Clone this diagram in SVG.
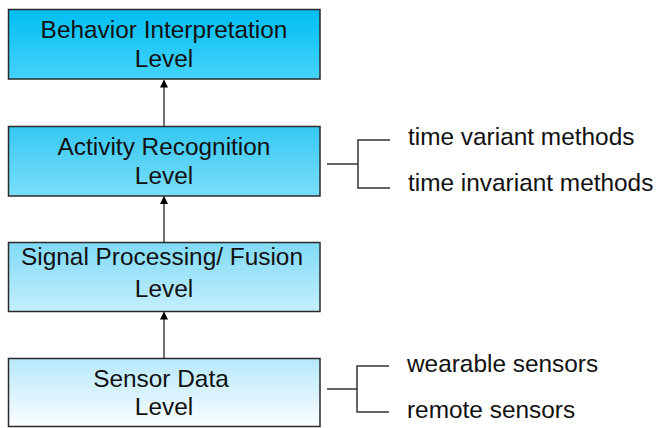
<svg xmlns="http://www.w3.org/2000/svg" width="657" height="428" viewBox="0 0 657 428">
<defs>
<linearGradient id="g1" x1="0" y1="0" x2="0" y2="1"><stop offset="0" stop-color="#00BEF2"/><stop offset="1" stop-color="#45D3FA"/></linearGradient>
<linearGradient id="g2" x1="0" y1="0" x2="0" y2="1"><stop offset="0" stop-color="#35C8F2"/><stop offset="1" stop-color="#7BDEFA"/></linearGradient>
<linearGradient id="g3" x1="0" y1="0" x2="0" y2="1"><stop offset="0" stop-color="#80DAF6"/><stop offset="1" stop-color="#C4EFFC"/></linearGradient>
<linearGradient id="g4" x1="0" y1="0" x2="0" y2="1"><stop offset="0" stop-color="#B6E8FA"/><stop offset="1" stop-color="#FBFEFF"/></linearGradient>
<marker id="arr" markerWidth="8" markerHeight="9" refX="7" refY="4" orient="auto" markerUnits="userSpaceOnUse">
<path d="M0,0 L8,4 L0,8 Z" fill="#000"/>
</marker>
</defs>
<style>
.box{stroke:#2a2a2a;stroke-width:1.5}
.t{font-family:"Liberation Sans",Arial,sans-serif;font-size:24.4px;fill:#111;text-anchor:middle}
.s{font-family:"Liberation Sans",Arial,sans-serif;font-size:24.4px;fill:#111}
.c{stroke:#111;stroke-width:1.2;fill:none}
.b{stroke:#333;stroke-width:1.5;fill:none}
</style>
<rect width="657" height="428" fill="#fff"/>
<g id="behavior">
<rect class="box" x="8.5" y="9.5" width="311.5" height="69.5" fill="url(#g1)"/>
<text class="t" x="164" y="37.5">Behavior Interpretation</text>
<text class="t" x="164" y="66.5">Level</text>
</g>
<g id="activity">
<rect class="box" x="8.5" y="126.5" width="311.5" height="69.5" fill="url(#g2)"/>
<text class="t" x="164" y="155">Activity Recognition</text>
<text class="t" x="164" y="184">Level</text>
</g>
<g id="signal">
<rect class="box" x="8.5" y="242.5" width="311.5" height="69" fill="url(#g3)"/>
<text class="t" x="162" y="265">Signal Processing/ Fusion</text>
<text class="t" x="164" y="297">Level</text>
</g>
<g id="sensor">
<rect class="box" x="8.5" y="358.5" width="311.5" height="68" fill="url(#g4)"/>
<text class="t" x="161" y="387">Sensor Data</text>
<text class="t" x="164" y="415">Level</text>
</g>
<g id="side-activity">
<text class="s" x="408" y="145">time variant methods</text>
<text class="s" x="408" y="191">time invariant methods</text>
</g>
<g id="side-sensor">
<text class="s" x="407" y="372">wearable sensors</text>
<text class="s" x="407" y="418">remote sensors</text>
</g>
<g id="connectors">
<line class="c" x1="164" y1="126" x2="164" y2="80.5" marker-end="url(#arr)"/>
<line class="c" x1="164" y1="242" x2="164" y2="197" marker-end="url(#arr)"/>
<line class="c" x1="164" y1="358" x2="164" y2="312.5" marker-end="url(#arr)"/>
<path class="b" d="M327,164 H358 M390,140 H358 V188 H390"/>
<path class="b" d="M327,389 H357 M389,366 H357 V412 H389"/>
</g>
</svg>
